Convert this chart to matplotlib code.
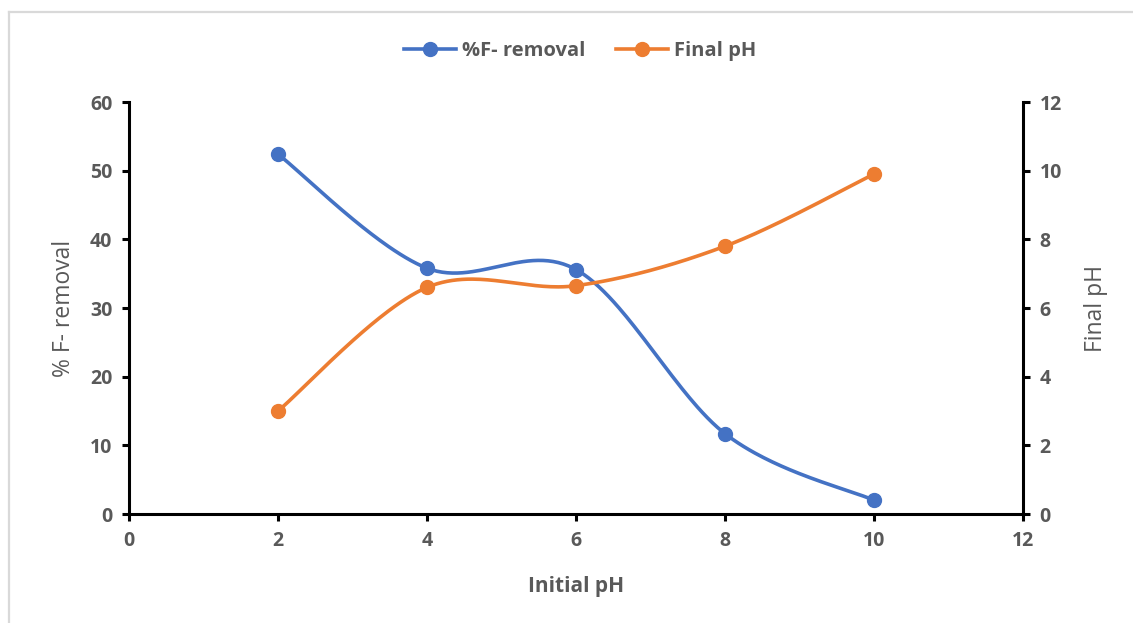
import numpy as np
import matplotlib
matplotlib.use("Agg")
import matplotlib.pyplot as plt
from matplotlib.lines import Line2D

plt.rcParams['font.family'] = ['Open Sans', 'DejaVu Sans']

initial_ph = [2, 4, 6, 8, 10]
f_removal = [52.4, 35.8, 35.6, 11.7, 2.0]
final_ph = [3.0, 6.6, 6.65, 7.8, 9.9]

x_ticks = [0, 2, 4, 6, 8, 10, 12]
left_ticks = [0, 10, 20, 30, 40, 50, 60]
right_ticks = [0, 2, 4, 6, 8, 10, 12]

BLUE = '#4472C4'
ORANGE = '#ED7D31'
GRAY = '#595959'


def smooth_curve(xs, ys, n=60):
    """Piecewise cubic Bezier through the points (spreadsheet-style smoothing)."""
    pts = np.column_stack([xs, ys]).astype(float)
    out = []
    m = len(pts)
    for i in range(m - 1):
        p0 = pts[i]
        p3 = pts[i + 1]
        prev = pts[i - 1] if i > 0 else pts[i]
        nxt = pts[i + 2] if i + 2 < m else pts[i + 1]
        c1 = p0 + (p3 - prev) / 6.0
        c2 = p3 - (nxt - p0) / 6.0
        t = np.linspace(0, 1, n)[:, None]
        seg = ((1 - t) ** 3) * p0 + 3 * ((1 - t) ** 2) * t * c1 + 3 * (1 - t) * t ** 2 * c2 + t ** 3 * p3
        if i > 0:
            seg = seg[1:]
        out.append(seg)
    arr = np.vstack(out)
    return arr[:, 0], arr[:, 1]


fig = plt.figure(figsize=(11.33, 6.23), dpi=100)
ax = fig.add_axes([129 / 1133, 1 - 514 / 623, (1023 - 129) / 1133, (514 - 102) / 623])
ax2 = ax.twinx()

sx, sy = smooth_curve(initial_ph, f_removal)
ax.plot(sx, sy, color=BLUE, lw=2.6, solid_capstyle='round', zorder=3)
ax.plot(initial_ph, f_removal, 'o', color=BLUE, ms=10, zorder=4)

ox, oy = smooth_curve(initial_ph, final_ph)
ax2.plot(ox, oy, color=ORANGE, lw=2.6, solid_capstyle='round', zorder=3)
ax2.plot(initial_ph, final_ph, 'o', color=ORANGE, ms=10, zorder=4)

ax.set_xlim(0, 12)
ax.set_ylim(0, 60)
ax2.set_ylim(0, 12)
ax.set_xticks(x_ticks)
ax.set_yticks(left_ticks)
ax2.set_yticks(right_ticks)

for a in (ax, ax2):
    for s in a.spines.values():
        s.set_visible(False)
ax.spines['left'].set_visible(True)
ax.spines['bottom'].set_visible(True)
ax2.spines['right'].set_visible(True)
for s in (ax.spines['left'], ax.spines['bottom'], ax2.spines['right']):
    s.set_linewidth(2.2)
    s.set_color('black')

ax.tick_params(axis='both', direction='out', length=5, width=2.2, colors='black',
               labelcolor=GRAY, labelsize=14, pad=7)
ax2.tick_params(axis='y', direction='out', length=5, width=2.2, colors='black',
                labelcolor=GRAY, labelsize=14, pad=7)
for lab in ax.get_xticklabels() + ax.get_yticklabels() + ax2.get_yticklabels():
    lab.set_fontweight('bold')

ax.set_xlabel('Initial pH', fontsize=15, fontweight='bold', color=GRAY, labelpad=18)
ax.set_ylabel('% F- removal', fontsize=16.5, color=GRAY, labelpad=10)
ax2.set_ylabel('Final pH', fontsize=16.5, color=GRAY, labelpad=16)

handles = [
    Line2D([], [], color=BLUE, lw=2.6, marker='o', ms=10),
    Line2D([], [], color=ORANGE, lw=2.6, marker='o', ms=10),
]
leg = fig.legend(handles, ['%F- removal', 'Final pH'], loc='center',
                 bbox_to_anchor=(580 / 1133, 1 - 51 / 623), ncol=2, frameon=False,
                 handlelength=2.6, columnspacing=1.5, handletextpad=0.3,
                 prop={'size': 14.5, 'weight': 'bold'})
for t in leg.get_texts():
    t.set_color(GRAY)

# chart border (top and left edges)
fig.add_artist(Line2D([9 / 1133, 1], [1 - 11.5 / 623, 1 - 11.5 / 623],
                      transform=fig.transFigure, color='#D9D9D9', lw=1.6))
fig.add_artist(Line2D([9 / 1133, 9 / 1133], [0, 1 - 11.5 / 623],
                      transform=fig.transFigure, color='#D9D9D9', lw=1.6))

fig.savefig('out.png', dpi=100)
